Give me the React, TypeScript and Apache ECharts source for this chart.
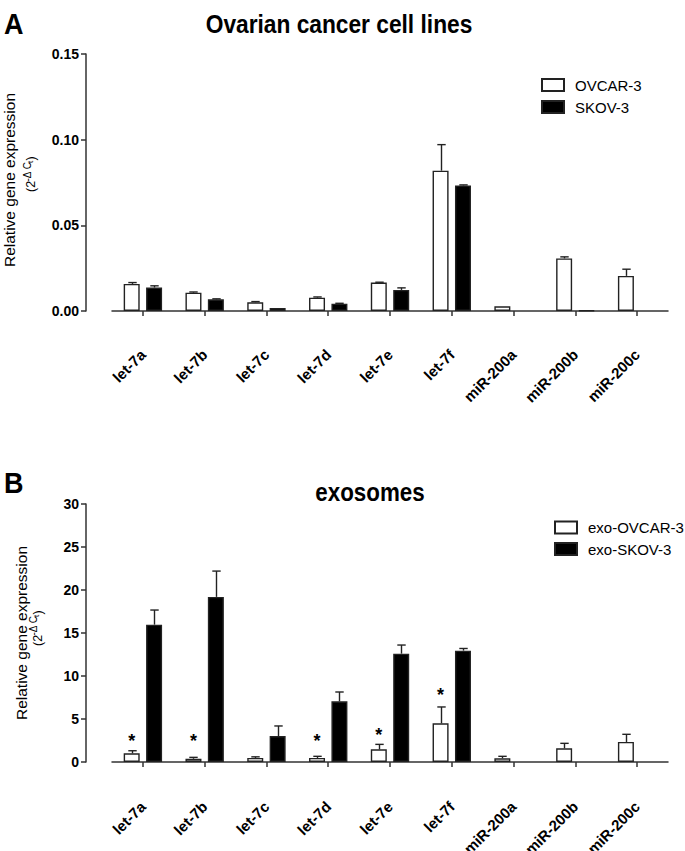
import React, { useEffect, useRef } from "react";
import * as echarts from "echarts";

const categories = ["let-7a", "let-7b", "let-7c", "let-7d", "let-7e", "let-7f", "miR-200a", "miR-200b", "miR-200c"];

// Panel A: ovarian cancer cell lines (2^-ΔCt)
const ovcarA = [0.0158, 0.0107, 0.0051, 0.0078, 0.0166, 0.0819, 0.0027, 0.0307, 0.0205];
const ovcarAErr = [0.0008, 0.0004, 0.0004, 0.0004, 0.0002, 0.0152, null, 0.0009, 0.0039];
const skovA = [0.0137, 0.0068, 0.0018, 0.0043, 0.0123, 0.0733, null, 0.0003, null];
const skovAErr = [0.001, 0.0003, null, 0.0002, 0.0012, 0.0003, null, null, null];
const yTicksA = [0, 0.05, 0.1, 0.15];

// Panel B: exosomes
const ovcarB = [1.01, 0.38, 0.47, 0.47, 1.47, 4.5, 0.43, 1.59, 2.33];
const ovcarBErr = [0.3, 0.16, 0.13, 0.19, 0.58, 1.9, 0.23, 0.58, 0.89];
const skovB = [15.97, 19.2, 3.02, 7.05, 12.6, 12.95, null, null, null];
const skovBErr = [1.7, 3.0, 1.17, 1.09, 1.0, 0.25, null, null, null];
const starLevelsB = [2.94, 2.94, null, 2.94, 3.64, 8.26, null, null, null];
const yTicksB = [0, 5, 10, 15, 20, 25, 30];

const FONT = "'Liberation Sans', Arial, Helvetica, sans-serif";
const BAR_W = 16;
const BAR_GAP = 0.4;
const HALF_OFF = (BAR_W + BAR_W * BAR_GAP) / 2;
const AXIS_COLOR = "#333";

function errData(mean: (number | null)[], err: (number | null)[]) {
  const out: number[][] = [];
  mean.forEach((m, i) => {
    const e = err[i];
    if (m != null && e != null && e > 0) out.push([i, m, m + e]);
  });
  return out;
}

function errSeries(name: string, data: number[][], gridIdx: number, offset: number) {
  return {
    type: "custom",
    name,
    xAxisIndex: gridIdx,
    yAxisIndex: gridIdx,
    silent: true,
    z: 5,
    data,
    renderItem: (params: any, api: any) => {
      const base = api.coord([api.value(0), api.value(1)]);
      const top = api.coord([api.value(0), api.value(2)]);
      const cx = Math.round(base[0] + offset) + 0.5;
      const style = { stroke: "#222", lineWidth: 1.4 };
      return {
        type: "group",
        children: [
          { type: "line", shape: { x1: cx, y1: base[1], x2: cx, y2: top[1] }, style },
          { type: "line", shape: { x1: cx - 4.2, y1: top[1], x2: cx + 4.2, y2: top[1] }, style },
        ],
      };
    },
  };
}

function barSeries(name: string, data: (number | null)[], gridIdx: number, fill: string) {
  return {
    type: "bar",
    name,
    xAxisIndex: gridIdx,
    yAxisIndex: gridIdx,
    barWidth: BAR_W,
    barGap: BAR_GAP * 100 + "%",
    data: data.map((v) => (v == null ? "-" : v)),
    itemStyle: { color: fill, borderColor: "#222", borderWidth: 1.4 },
    emphasis: { disabled: true },
  };
}

function xAxisCfg(gridIdx: number, offset: number) {
  return {
    type: "category",
    gridIndex: gridIdx,
    data: categories,
    offset,
    axisLine: { show: true, lineStyle: { color: AXIS_COLOR, width: 1.5 } },
    axisTick: { show: true, alignWithLabel: true, length: 5, lineStyle: { color: AXIS_COLOR, width: 1.5 } },
    axisLabel: {
      rotate: 45,
      interval: 0,
      margin: 13,
      color: "#000",
      fontFamily: FONT,
      fontWeight: "bold",
      fontSize: 15,
    },
  };
}

function yAxisCfg(gridIdx: number, ticks: number[], digits: number) {
  return {
    type: "value",
    gridIndex: gridIdx,
    min: ticks[0],
    max: ticks[ticks.length - 1],
    interval: ticks[1] - ticks[0],
    offset: 26,
    splitLine: { show: false },
    axisLine: { show: true, lineStyle: { color: AXIS_COLOR, width: 1.5 } },
    axisTick: { show: true, length: 5, lineStyle: { color: AXIS_COLOR, width: 1.5 } },
    axisLabel: {
      margin: 7,
      color: "#000",
      fontFamily: FONT,
      fontWeight: "bold",
      fontSize: 14,
      formatter: (v: number) => v.toFixed(digits),
    },
  };
}

function yTitle(x: number, y: number, line2Dy: number, line2Dx: number) {
  const sup = { fill: "#000", font: `10px ${FONT}`, verticalAlign: "middle", align: "left" };
  return {
    type: "group",
    x,
    y,
    rotation: Math.PI / 2,
    silent: true,
    children: [
      {
        type: "text",
        x: 0,
        y: 0,
        style: { text: "Relative gene expression", font: `15.5px ${FONT}`, fill: "#000", align: "center", verticalAlign: "middle" },
      },
      { type: "text", x: line2Dx - 17, y: line2Dy, style: { text: "(2", font: `12.5px ${FONT}`, fill: "#000", align: "left", verticalAlign: "middle" } },
      { type: "text", x: line2Dx - 6.5, y: line2Dy - 4, style: { ...sup, text: "-Δ C" } },
      { type: "text", x: line2Dx + 12, y: line2Dy - 1, style: { ...sup, font: `8px ${FONT}`, text: "t" } },
      { type: "text", x: line2Dx + 14.5, y: line2Dy, style: { text: ")", font: `12.5px ${FONT}`, fill: "#000", align: "left", verticalAlign: "middle" } },
    ],
  };
}

function legendCfg(names: string[], left: number, top: number, gap: number) {
  return {
    data: names,
    orient: "vertical",
    left,
    top,
    padding: 0,
    itemWidth: 22,
    itemHeight: 12,
    itemGap: gap,
    icon: "rect",
    selectedMode: false,
    textStyle: { fontSize: 15, fontFamily: FONT, color: "#000", padding: [0, 0, 0, 6] },
  };
}

export default function App() {
  const ref = useRef<HTMLDivElement>(null);
  useEffect(() => {
    document.body.style.margin = "0";
    if (!ref.current) return;
    const chart = echarts.init(ref.current, null, { renderer: "svg" });
    const starData: number[][] = [];
    starLevelsB.forEach((v, i) => {
      if (v != null) starData.push([i, v]);
    });
    const option: any = {
      animation: false,
      backgroundColor: "#fff",
      textStyle: { fontFamily: FONT },
      grid: [
        { left: 112, right: 17, top: 54, bottom: 540, containLabel: false, outerBoundsMode: "none" },
        { left: 112, right: 17, top: 504, bottom: 89, containLabel: false, outerBoundsMode: "none" },
      ],
      legend: [
        legendCfg(["OVCAR-3", "SKOV-3"], 541, 77.5, 7),
        legendCfg(["exo-OVCAR-3", "exo-SKOV-3"], 554, 520, 6.5),
      ],
      xAxis: [xAxisCfg(0, 28), xAxisCfg(1, 29)],
      yAxis: [yAxisCfg(0, yTicksA, 2), yAxisCfg(1, yTicksB, 0)],
      series: [
        barSeries("OVCAR-3", ovcarA, 0, "#fff"),
        barSeries("SKOV-3", skovA, 0, "#000"),
        errSeries("errA1", errData(ovcarA, ovcarAErr), 0, -HALF_OFF),
        errSeries("errA2", errData(skovA, skovAErr), 0, HALF_OFF),
        barSeries("exo-OVCAR-3", ovcarB, 1, "#fff"),
        barSeries("exo-SKOV-3", skovB, 1, "#000"),
        errSeries("errB1", errData(ovcarB, ovcarBErr), 1, -HALF_OFF),
        errSeries("errB2", errData(skovB, skovBErr), 1, HALF_OFF),
        {
          type: "custom",
          name: "stars",
          xAxisIndex: 1,
          yAxisIndex: 1,
          silent: true,
          z: 6,
          data: starData,
          renderItem: (params: any, api: any) => {
            const p = api.coord([api.value(0), api.value(1)]);
            return {
              type: "text",
              x: p[0] - HALF_OFF,
              y: p[1] + 4,
              style: { text: "*", font: `bold 18px ${FONT}`, fill: "#000", align: "center", verticalAlign: "middle" },
            };
          },
        },
      ],
      graphic: [
        { type: "text", x: 4, y: 23, scaleX: 0.9, style: { text: "A", font: `bold 30px ${FONT}`, fill: "#000", align: "left", verticalAlign: "middle" } },
        { type: "text", x: 339, y: 24, scaleX: 0.875, style: { text: "Ovarian cancer cell lines", font: `bold 26px ${FONT}`, fill: "#000", align: "center", verticalAlign: "middle" } },
        { type: "text", x: 4, y: 482, scaleX: 0.9, style: { text: "B", font: `bold 30px ${FONT}`, fill: "#000", align: "left", verticalAlign: "middle" } },
        { type: "text", x: 370, y: 492, scaleX: 0.86, style: { text: "exosomes", font: `bold 26px ${FONT}`, fill: "#000", align: "center", verticalAlign: "middle" } },
        yTitle(9.5, 180, 21.5, 5),
        yTitle(21, 633, 16.5, 4),
      ],
    };
    chart.setOption(option);
    return () => chart.dispose();
  }, []);
  return <div ref={ref} style={{ width: 685, height: 851 }} />;
}
